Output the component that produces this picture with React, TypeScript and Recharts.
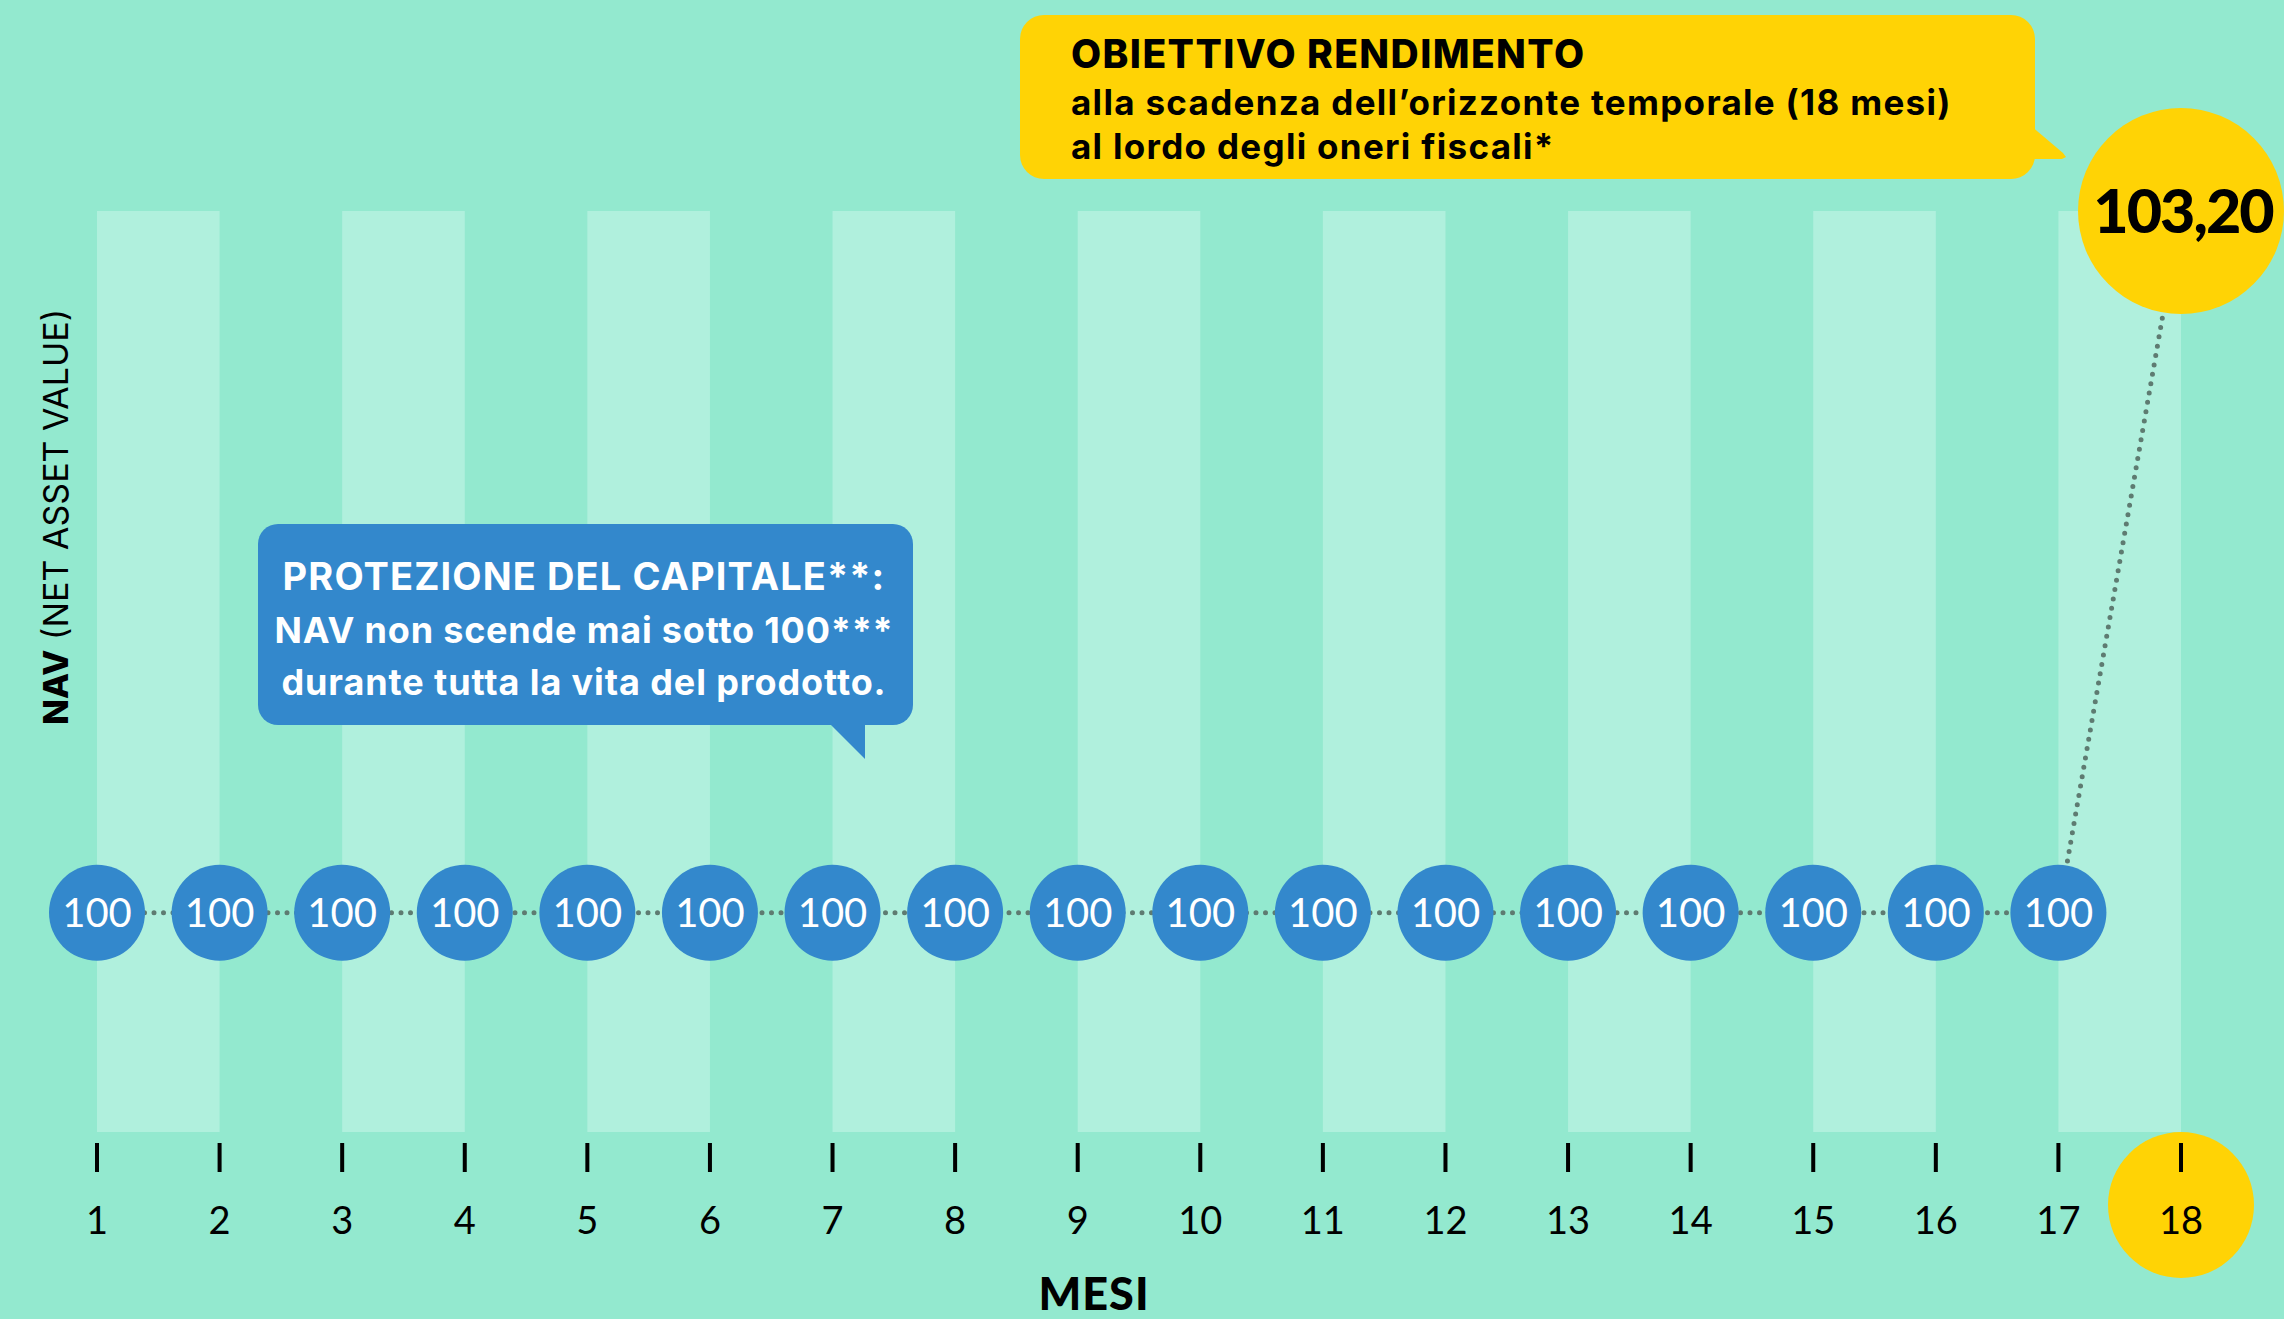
import React from "react";
import { ComposedChart, Line, XAxis, YAxis, ReferenceArea } from "recharts";

// months on the x axis and NAV per month
const months = [1, 2, 3, 4, 5, 6, 7, 8, 9, 10, 11, 12, 13, 14, 15, 16, 17, 18];
const nav = [100, 100, 100, 100, 100, 100, 100, 100, 100, 100, 100, 100, 100, 100, 100, 100, 100, 103.2];
// light column bands (from month, to month)
const bands = [
  [1, 2],
  [3, 4],
  [5, 6],
  [7, 8],
  [9, 10],
  [11, 12],
  [13, 14],
  [15, 16],
  [17, 18],
];

const data = months.map((m, i) => ({ month: m, nav: nav[i] }));

const W = 2284;
const H = 1319;
const BG = "#93E9CF";
const BAND = "#B0F0DD";
const BLUE = "#3388CC";
const YELLOW = "#FFD305";
const DOTS = "#5E7B71";
const FONT = "Lato, 'Open Sans', sans-serif";
const WIDE = "Inter, 'Open Sans', sans-serif";

const fmt = (v: number) => (Number.isInteger(v) ? String(v) : v.toFixed(2).replace(".", ","));

const NavDot = (props: any) => {
  const { cx, cy, index, payload } = props;
  if (cx == null || cy == null) return null;
  if (index === months.length - 1) {
    return (
      <g key={`dot-${index}`}>
        <circle cx={cx} cy={cy} r={103} fill={YELLOW} />
        <text
          x={cx + 2}
          y={cy + 22}
          textAnchor="middle"
          fontFamily={FONT}
          fontWeight={900}
          fontSize={61}
          letterSpacing={-2}
          fill="#000"
        >
          {fmt(payload.nav)}
        </text>
      </g>
    );
  }
  return (
    <g key={`dot-${index}`}>
      <circle cx={cx} cy={cy} r={48} fill={BLUE} />
      <text x={cx} y={cy + 14} textAnchor="middle" fontFamily={FONT} fontSize={40} fill="#fff">
        {fmt(payload.nav)}
      </text>
    </g>
  );
};

const MonthTick = (props: any) => {
  const { x, y, payload } = props;
  const last = payload.value === months[months.length - 1];
  return (
    <g>
      {last && <circle cx={x} cy={y + 73} r={73} fill={YELLOW} />}
      <rect x={x - 2} y={y + 11} width={4} height={29} fill="#000" />
      <text x={x} y={y + 102} textAnchor="middle" fontFamily={FONT} fontSize={38} fill="#000">
        {payload.value}
      </text>
    </g>
  );
};

export default function App() {
  return (
    <div style={{ position: "absolute", left: 0, top: 0, width: W, height: H, background: BG, overflow: "hidden" }}>
      <ComposedChart width={W} height={H} data={data} margin={{ top: 211, right: 103, bottom: 127, left: 97 }}>
        <XAxis
          dataKey="month"
          type="number"
          domain={[1, 18]}
          ticks={months}
          interval={0}
          height={60}
          axisLine={false}
          tickLine={false}
          tickSize={0}
          tickMargin={0}
          tick={<MonthTick />}
        />
        <YAxis type="number" domain={[99, 103.2]} hide width={0} />
        {bands.map(([a, b]) => (
          <ReferenceArea key={a} x1={a} x2={b} y1={99} y2={103.2} fill={BAND} fillOpacity={1} stroke="none" />
        ))}
        <Line
          type="linear"
          dataKey="nav"
          stroke={DOTS}
          strokeWidth={5}
          strokeDasharray="0 9.5"
          strokeLinecap="round"
          dot={<NavDot />}
          activeDot={false}
          isAnimationActive={false}
        />
      </ComposedChart>
      <svg width={W} height={H} style={{ position: "absolute", left: 0, top: 0, pointerEvents: "none" }}>
        {/* yellow callout */}
        <rect x={1020} y={15} width={1015} height={164} rx={24} fill={YELLOW} />
        <polygon points="2030,125 2063,153 2066,157 2062,159 2030,159" fill={YELLOW} />
        <text fontFamily={WIDE} fill="#000">
          <tspan x={1071} y={68} fontSize={39} fontWeight={800} letterSpacing={1.4}>
            OBIETTIVO RENDIMENTO
          </tspan>
          <tspan x={1071} y={115} fontSize={35} fontWeight={700} letterSpacing={1.3}>
            alla scadenza dell’orizzonte temporale (18 mesi)
          </tspan>
          <tspan x={1071} y={159} fontSize={35} fontWeight={700} letterSpacing={1.3}>
            al lordo degli oneri fiscali*
          </tspan>
        </text>
        {/* blue callout */}
        <rect x={258} y={524} width={655} height={201} rx={20} fill={BLUE} />
        <polygon points="828,722 865,722 865,759" fill={BLUE} />
        <text fontFamily={WIDE} fill="#fff" fontWeight={700} textAnchor="middle">
          <tspan x={584} y={590} fontSize={38} letterSpacing={1.1}>
            PROTEZIONE DEL CAPITALE**:
          </tspan>
          <tspan x={584} y={643} fontSize={36} letterSpacing={0.8}>
            NAV non scende mai sotto 100***
          </tspan>
          <tspan x={584} y={695} fontSize={36} letterSpacing={0.9}>
            durante tutta la vita del prodotto.
          </tspan>
        </text>
        {/* axis titles */}
        <text
          x={55}
          y={517}
          transform="rotate(-90 55 517)"
          textAnchor="middle"
          dominantBaseline="central"
          fontFamily={WIDE}
          fontSize={34}
          fill="#000"
        >
          <tspan fontWeight={800}>NAV</tspan> (NET ASSET VALUE)
        </text>
        <text
          x={1094}
          y={1310}
          textAnchor="middle"
          fontFamily={FONT}
          fontWeight={900}
          fontSize={45}
          letterSpacing={1}
          fill="#000"
        >
          MESI
        </text>
      </svg>
    </div>
  );
}
